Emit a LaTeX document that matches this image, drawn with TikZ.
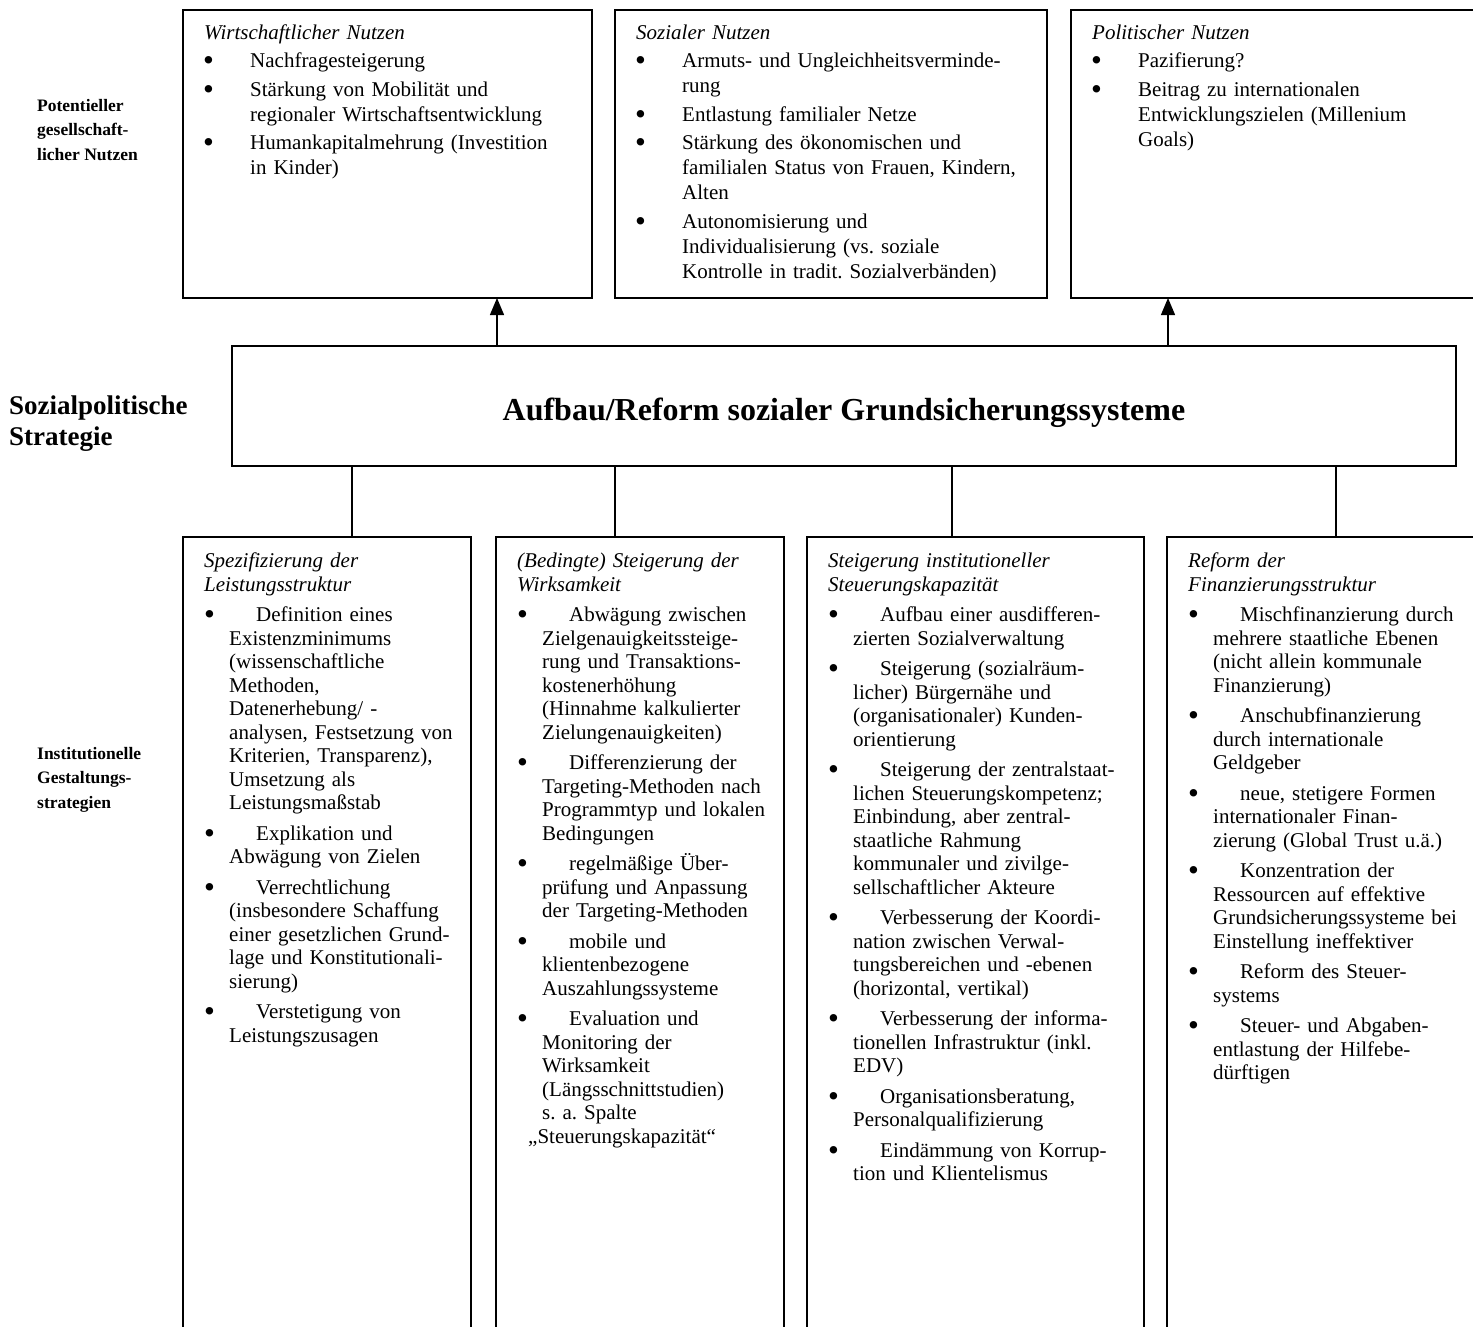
\documentclass[tikz,border=0pt]{standalone}
\usepackage{fontspec}
\setmainfont{Liberation Serif}
\usetikzlibrary{arrows.meta}
\frenchspacing
\newcommand\nl{\hfil\break}
\newcommand\bigbul{\raisebox{-3pt}{\fontsize{31}{31}\selectfont\textbullet}}
\newcommand\titem[1]{\par\vspace{3.5pt}\hangindent=46pt\hangafter=1\noindent\makebox[46pt][l]{\hspace{-1pt}\bigbul}#1\par}
\newcommand\bitem[1]{\par\vspace{7pt}\hangindent=25pt\hangafter=1\noindent\makebox[52pt][l]{\hspace{0pt}\bigbul}#1\par}
\tikzset{
  box/.style={draw, line width=1.6pt, rectangle, inner sep=0pt, outer sep=0pt, anchor=north west},
  mainbox/.style={draw, line width=2.2pt, rectangle, inner sep=0pt, outer sep=0pt},
  ttxt/.style={anchor=north west, inner sep=0pt, text width=430pt, align=left, font=\frenchspacing\fontsize{21}{25}\selectfont},
  btxt/.style={anchor=north west, inner sep=0pt, text width=430pt, align=left, font=\frenchspacing\fontsize{21}{23.5}\selectfont},
  lbl/.style={anchor=north west, inner sep=0pt, align=left, font=\bfseries\fontsize{17.5}{24.5}\selectfont},
  conn/.style={line width=1.3pt},
  arr/.style={conn, -{Triangle[width=14pt,length=17pt]}},
}
\begin{document}
\begin{tikzpicture}[x=1pt,y=-1pt]
\useasboundingbox (0,0) rectangle (1473,1326);
% left labels
\node[lbl] (l1) at (37,94) {\strut Potentieller\\gesellschaft-\\licher Nutzen};
\node[lbl, font=\bfseries\fontsize{27}{31}\selectfont] (l2) at (9,393) {\strut Sozialpolitische\\Strategie};
\node[lbl] (l3) at (37,742) {\strut Institutionelle\\Gestaltungs-\\strategien};
% top boxes
\node[box, minimum width=409pt, minimum height=288pt] (t1) at (183,10) {};
\node[box, minimum width=432pt, minimum height=288pt] (t2) at (615,10) {};
\node[box, minimum width=460pt, minimum height=288pt] (t3) at (1071,10) {};
\node[ttxt] (t1x) at (204,21.5) {{\itshape\strut Wirtschaftlicher Nutzen\par}
\titem{Nachfragesteigerung}
\titem{Stärkung von Mobilität und\nl regionaler Wirtschaftsentwicklung}
\titem{Humankapitalmehrung (Investition\nl in Kinder)}};
\node[ttxt] (t2x) at (636,21.5) {{\itshape\strut Sozialer Nutzen\par}
\titem{Armuts- und Ungleichheitsverminde-\nl rung}
\titem{Entlastung familialer Netze}
\titem{Stärkung des ökonomischen und\nl familialen Status von Frauen, Kindern,\nl Alten}
\titem{Autonomisierung und\nl Individualisierung (vs. soziale\nl Kontrolle in tradit. Sozialverbänden)}};
\node[ttxt] (t3x) at (1092,21.5) {{\itshape\strut Politischer Nutzen\par}
\titem{Pazifierung?}
\titem{Beitrag zu internationalen\nl Entwicklungszielen (Millenium\nl Goals)}};
% main box
\node[mainbox, minimum width=1224pt, minimum height=120pt] (main) at (844,406) {};
\node[inner sep=0pt, font=\bfseries\fontsize{32}{38}\selectfont] (maint) at (844,413) {Aufbau/Reform sozialer Grundsicherungssysteme};
% arrows up
\coordinate (a1) at (497,346);
\coordinate (a2) at (1168,346);
\draw[arr] (a1) -- (a1 |- t1.south);
\draw[arr] (a2) -- (a2 |- t3.south);
% bottom boxes
\node[box, minimum width=288pt, minimum height=900pt] (b1) at (183,537) {};
\node[box, minimum width=288pt, minimum height=900pt] (b2) at (496,537) {};
\node[box, minimum width=337pt, minimum height=900pt] (b3) at (807,537) {};
\node[box, minimum width=400pt, minimum height=900pt] (b4) at (1167,537) {};
\coordinate (c1) at (352,466);
\coordinate (c2) at (615,466);
\coordinate (c3) at (952,466);
\coordinate (c4) at (1336,466);
\draw[conn] (c1) -- (c1 |- b1.north);
\draw[conn] (c2) -- (c2 |- b2.north);
\draw[conn] (c3) -- (c3 |- b3.north);
\draw[conn] (c4) -- (c4 |- b4.north);
\node[btxt] (b1x) at (204,551) {{\itshape\strut Spezifizierung der\nl Leistungsstruktur\par}
\bitem{Definition eines\nl Existenzminimums\nl (wissenschaftliche\nl Methoden,\nl Datenerhebung/ -\nl analysen, Festsetzung von\nl Kriterien, Transparenz),\nl Umsetzung als\nl Leistungsmaßstab}
\bitem{Explikation und\nl Abwägung von Zielen}
\bitem{Verrechtlichung\nl (insbesondere Schaffung\nl einer gesetzlichen Grund-\nl lage und Konstitutionali-\nl sierung)}
\bitem{Verstetigung von\nl Leistungszusagen}};
\node[btxt] (b2x) at (517,551) {{\itshape\strut (Bedingte) Steigerung der\nl Wirksamkeit\par}
\bitem{Abwägung zwischen\nl Zielgenauigkeitssteige-\nl rung und Transaktions-\nl kostenerhöhung\nl (Hinnahme kalkulierter\nl Zielungenauigkeiten)}
\bitem{Differenzierung der\nl Targeting-Methoden nach\nl Programmtyp und lokalen\nl Bedingungen}
\bitem{regelmäßige Über-\nl prüfung und Anpassung\nl der Targeting-Methoden}
\bitem{mobile und\nl klientenbezogene\nl Auszahlungssysteme}
\bitem{Evaluation und\nl Monitoring der\nl Wirksamkeit\nl (Längsschnittstudien)\nl s. a. Spalte\nl \hspace*{-14pt}„Steuerungskapazität“}};
\node[btxt] (b3x) at (828,551) {{\itshape\strut Steigerung institutioneller\nl Steuerungskapazität\par}
\bitem{Aufbau einer ausdifferen-\nl zierten Sozialverwaltung}
\bitem{Steigerung (sozialräum-\nl licher) Bürgernähe und\nl (organisationaler) Kunden-\nl orientierung}
\bitem{Steigerung der zentralstaat-\nl lichen Steuerungskompetenz;\nl Einbindung, aber zentral-\nl staatliche Rahmung\nl kommunaler und zivilge-\nl sellschaftlicher Akteure}
\bitem{Verbesserung der Koordi-\nl nation zwischen Verwal-\nl tungsbereichen und -ebenen\nl (horizontal, vertikal)}
\bitem{Verbesserung der informa-\nl tionellen Infrastruktur (inkl.\nl EDV)}
\bitem{Organisationsberatung,\nl Personalqualifizierung}
\bitem{Eindämmung von Korrup-\nl tion und Klientelismus}};
\node[btxt] (b4x) at (1188,551) {{\itshape\strut Reform der\nl Finanzierungsstruktur\par}
\bitem{Mischfinanzierung durch\nl mehrere staatliche Ebenen\nl (nicht allein kommunale\nl Finanzierung)}
\bitem{Anschubfinanzierung\nl durch internationale\nl Geldgeber}
\bitem{neue, stetigere Formen\nl internationaler Finan-\nl zierung (Global Trust u.ä.)}
\bitem{Konzentration der\nl Ressourcen auf effektive\nl Grundsicherungssysteme bei\nl Einstellung ineffektiver}
\bitem{Reform des Steuer-\nl systems}
\bitem{Steuer- und Abgaben-\nl entlastung der Hilfebe-\nl dürftigen}};
\end{tikzpicture}
\end{document}
